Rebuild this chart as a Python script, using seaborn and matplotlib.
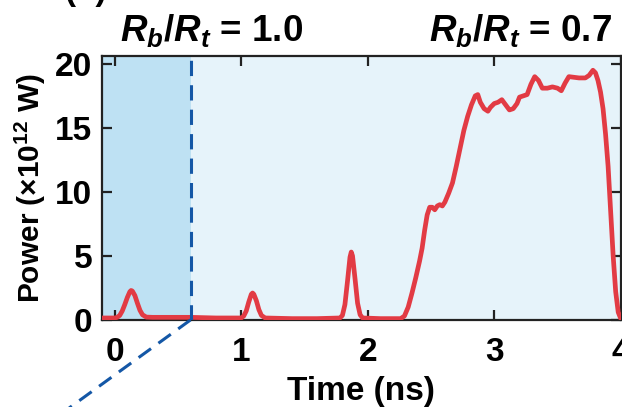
import matplotlib
matplotlib.use("Agg")
import matplotlib.pyplot as plt
import seaborn as sns
import pandas as pd

# Laser power history (ns, 10^12 W)
time_ns = [-0.10, 0.00, 0.02, 0.04, 0.06, 0.08, 0.10, 0.12, 0.13, 0.14, 0.16, 0.18, 0.20,
           0.22, 0.25, 0.30, 0.45, 0.60, 0.80,
           1.00, 1.02, 1.04, 1.06, 1.08, 1.09, 1.10, 1.12, 1.14, 1.16, 1.19, 1.40, 1.60,
           1.78, 1.80, 1.82, 1.84, 1.86, 1.87, 1.88, 1.90, 1.92, 1.94, 1.96, 2.10,
           2.26, 2.29, 2.32, 2.35, 2.38, 2.41, 2.43, 2.45, 2.47, 2.49, 2.51, 2.53,
           2.55, 2.57, 2.59, 2.61, 2.64, 2.67, 2.70, 2.73, 2.76, 2.79, 2.82, 2.85,
           2.87, 2.89, 2.92, 2.95, 2.97, 3.00, 3.03, 3.06, 3.09, 3.12, 3.15, 3.18,
           3.20, 3.23, 3.26, 3.29, 3.32, 3.35, 3.38, 3.42, 3.46, 3.50, 3.53, 3.56,
           3.59, 3.63, 3.67, 3.72, 3.75, 3.78, 3.80, 3.82, 3.84, 3.86, 3.88, 3.90,
           3.92, 3.94, 3.96, 3.98, 4.00]
power_tw = [0.15, 0.15, 0.20, 0.35, 0.70, 1.20, 1.75, 2.20, 2.30, 2.25, 1.90, 1.30, 0.75,
            0.40, 0.22, 0.20, 0.20, 0.20, 0.15,
            0.15, 0.30, 0.70, 1.40, 2.00, 2.10, 2.00, 1.50, 0.80, 0.35, 0.15, 0.10, 0.10,
            0.15, 0.35, 1.20, 3.00, 4.90, 5.30, 5.00, 3.20, 1.30, 0.40, 0.15, 0.10,
            0.10, 0.30, 1.00, 2.10, 3.30, 4.60, 5.60, 7.00, 8.20, 8.80, 8.80, 8.60,
            8.90, 9.00, 8.90, 9.20, 9.90, 10.7, 12.0, 13.4, 14.8, 15.9, 16.8, 17.5,
            17.6, 17.0, 16.5, 16.3, 16.6, 16.9, 17.0, 17.2, 16.8, 16.4, 16.5, 16.9,
            17.4, 17.5, 17.6, 18.4, 19.0, 18.7, 18.1, 18.1, 18.2, 18.1, 17.9, 18.5,
            19.0, 18.95, 18.9, 18.9, 19.1, 19.5, 19.3, 18.7, 17.8, 16.5, 14.5, 12.0,
            8.50, 5.00, 2.20, 0.60, 0.10]

t_switch = 0.6
regime_labels = [r"$R_b/R_t$ = 1.0", r"$R_b/R_t$ = 0.7"]
x_ticks = [0, 1, 2, 3, 4]
y_ticks = [0, 5, 10, 15, 20]

sns.set_theme(style="ticks")
plt.rcParams.update({
    "font.family": ["Liberation Sans", "DejaVu Sans"],
    "font.weight": "bold",
    "text.color": "black",
    "axes.labelcolor": "black",
    "xtick.color": "black",
    "ytick.color": "black",
    "mathtext.fontset": "custom",
    "mathtext.it": "Liberation Sans:italic:bold",
    "mathtext.rm": "Liberation Sans:bold",
    "mathtext.bf": "Liberation Sans:bold",
    "mathtext.sf": "Liberation Sans",
    "axes.edgecolor": "#222222",
    "axes.linewidth": 1.6,
})

df = pd.DataFrame({"time": time_ns, "power": power_tw})

fig = plt.figure(figsize=(6.22, 4.07), dpi=100)
ax = fig.add_axes([0.164, 0.214, 0.834, 0.648])

ax.axvspan(-0.1, t_switch, color="#BEE1F3", lw=0, zorder=0)
ax.axvspan(t_switch, 4.0, color="#E6F3FA", lw=0, zorder=0)

sns.lineplot(data=df, x="time", y="power", ax=ax, color="#E23B44", lw=3.4,
             zorder=3, solid_joinstyle="round", solid_capstyle="round")

dash_kw = dict(color="#1457A6", lw=2.2, dashes=(5, 3), zorder=4)
ax.plot([t_switch, t_switch], [0, 20.6], **dash_kw)
ax.plot([t_switch, -0.46], [0, -7.6], clip_on=False, **dash_kw)

ax.set_xlim(-0.1, 4.0)
ax.set_ylim(0, 20.6)
ax.set_xticks(x_ticks)
ax.set_yticks(y_ticks)
ax.tick_params(direction="in", length=7, width=1.6, labelsize=24, top=True, right=True,
               color="#222222")
ax.tick_params(axis="x", pad=12)
ax.tick_params(axis="y", pad=7)
for lab in ax.get_xticklabels() + ax.get_yticklabels():
    lab.set_fontweight("bold")

ax.set_xlabel("Time (ns)", fontsize=24, fontweight="bold", labelpad=6)
ax.set_ylabel(r"Power $\mathsf{(\times}$10$^{12}$ W$\mathsf{)}$", fontsize=21.5,
              fontweight="bold", labelpad=5)

fig.text(212 / 622, 1 - 41 / 407, regime_labels[0], fontsize=26.5, fontweight="bold",
         ha="center", va="baseline")
fig.text(520 / 622, 1 - 41 / 407, regime_labels[1], fontsize=26.5, fontweight="bold",
         ha="center", va="baseline")
fig.text(86 / 622, 1.0, "(b)", fontsize=24, fontweight="bold", ha="center", va="baseline")

fig.savefig("out.png", dpi=100)
